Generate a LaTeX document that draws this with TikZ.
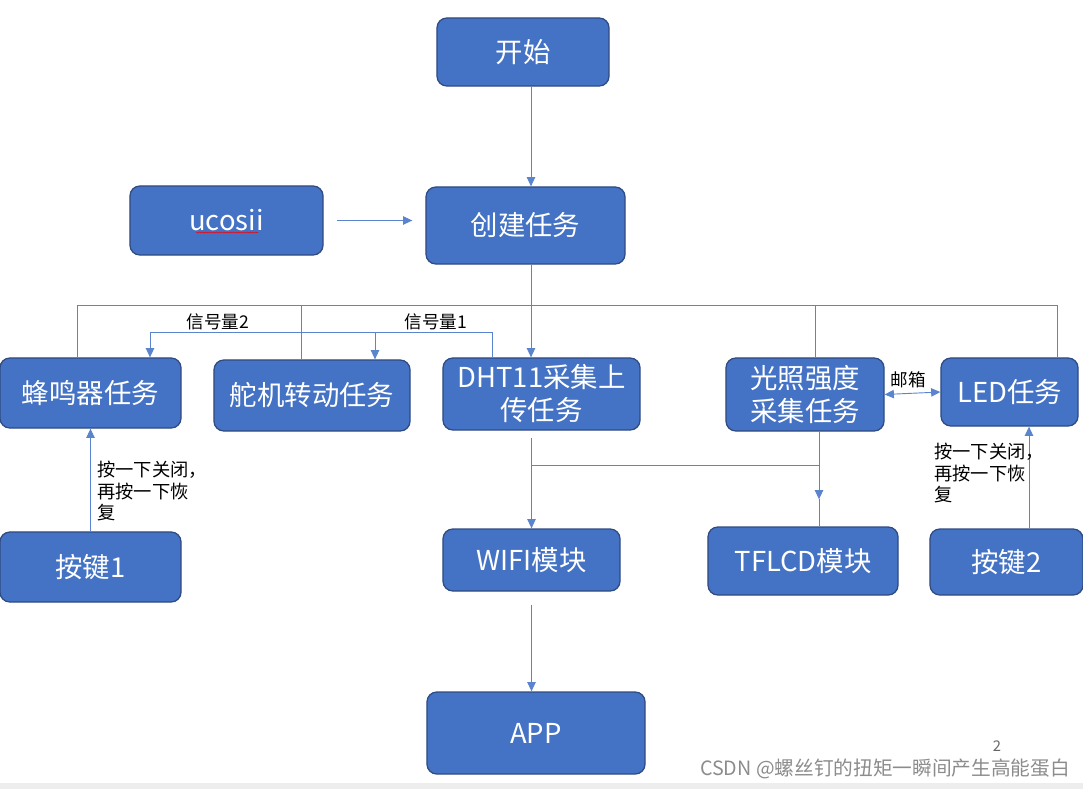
\documentclass[tikz,border=0pt]{standalone}
\usepackage{fontspec}
\setmainfont{Noto Sans CJK SC}
\usetikzlibrary{arrows.meta,decorations.pathmorphing}
\definecolor{boxblue}{HTML}{4472C4}
\definecolor{boxedge}{HTML}{2F4B82}
\definecolor{linkblue}{HTML}{5B84CF}
\begin{document}
\begin{tikzpicture}[x=0.025cm,y=-0.025cm]
	\tikzstyle{task}=[rectangle,rounded corners=7pt,fill=boxblue,draw=boxedge,line width=0.9pt,text=white,inner sep=0pt,align=center,font=\fontsize{19.5}{23.5}\selectfont]
	%\tikzstyle{task}=[rectangle,rounded corners=4pt,fill=boxblue,draw=boxedge,text=white]
	\tikzstyle{line}=[draw=linkblue,line width=0.65pt]
	\tikzstyle{flow}=[line,-{Triangle[length=2.3mm,width=2.1mm]}]
	\tikzstyle{note}=[font=\fontsize{12.5}{15.5}\selectfont,inner sep=0pt]
	\tikzstyle{keynote}=[font=\fontsize{13}{15.3}\selectfont,inner sep=0pt,anchor=north west,align=left]
	\useasboundingbox (0,0) rectangle (1083,789);
	\fill[black!7] (0,783) rectangle (1083,789);
	\node[task,minimum width=4.3cm,minimum height=1.7cm] (start) at (523,52) {开始};
	\node[task,minimum width=4.825cm,minimum height=1.725cm] (ucosii) at (226.5,220.5) {ucosii};
	\node[task,minimum width=4.975cm,minimum height=1.925cm] (create) at (525.5,225.5) {创建任务};
	\node[task,minimum width=4.525cm,minimum height=1.75cm] (buzzer) at (90.5,393) {蜂鸣器任务};
	\node[task,minimum width=4.9cm,minimum height=1.775cm] (servo) at (312,395.5) {舵机转动任务};
	\node[task,minimum width=4.925cm,minimum height=1.8cm] (dht) at (541.5,394) {DHT11采集上\\传任务};
	\node[task,minimum width=3.95cm,minimum height=1.825cm] (light) at (805,394.5) {光照强度\\采集任务};
	\node[task,minimum width=3.425cm,minimum height=1.7cm] (led) at (1009.5,392) {LED任务};
	\node[task,minimum width=4.525cm,minimum height=1.75cm] (key1) at (90.5,567) {按键1};
	\node[task,minimum width=4.425cm,minimum height=1.55cm] (wifi) at (531.5,560) {WIFI模块};
	\node[task,minimum width=4.75cm,minimum height=1.7cm] (tflcd) at (803,561) {TFLCD模块};
	\node[task,minimum width=3.825cm,minimum height=1.65cm] (key2) at (1006.5,562) {按键2};
	\node[task,minimum width=5.45cm,minimum height=2.05cm] (app) at (536,733) {APP};
	% spell-check mark under ucosii
	\draw[red,line width=0.4pt,decorate,decoration={snake,amplitude=0.35pt,segment length=2pt}] (196,232.5) -- (258,232.5);
	% task bus
	\coordinate (trunk) at (531,305);
	\coordinate (bus-l) at (77,305);
	\coordinate (bus-r) at (1057,305);
	\coordinate (bus-servo) at (301,305);
	\coordinate (bus-light) at (815,305);
	\draw[flow] (start.south -| trunk) -- (create.north -| trunk);
	\draw[flow] ([xshift=0.325cm]ucosii.east) -- ([xshift=-0.325cm]create.west |- ucosii.east);
	\draw[line] (buzzer.north -| bus-l) -- (bus-l) -- (bus-r) -- (led.north -| bus-r);
	\draw[line] (servo.north -| bus-servo) -- (bus-servo);
	\draw[line] (light.north -| bus-light) -- (bus-light);
	\draw[flow] (create.south -| trunk) -- (dht.north -| trunk);
	% semaphores
	\coordinate (sem-r) at (492,332);
	\coordinate (sem-l) at (150,332);
	\coordinate (sem-m) at (375,332);
	\draw[line] (dht.north -| sem-r) -- (sem-r) -- (sem-l);
	\draw[flow] (sem-l) -- (buzzer.north -| sem-l);
	\draw[flow] (sem-m) -- (servo.north -| sem-m);
	\node[note] (sem2) at (218,322) {信号量2};
	\node[note] (sem1) at (436,322) {信号量1};
	% mailbox
	\draw[line,{Triangle[length=2.3mm,width=2.1mm]}-{Triangle[length=2.3mm,width=2.1mm]}] (light.east) -- (led.west);
	\node[note] (mbox) at (908,380) {邮箱};
	% keys
	\draw[flow] (key1.north) -- (buzzer.south);
	\node[keynote] (key1-note) at (97,461) {按一下关闭，\\再按一下恢\\复};
	\draw[flow] ([xshift=0.5625cm]key2.north) -- ([xshift=0.5625cm]key2.north |- led.south);
	\node[keynote] (key2-note) at (934,443) {按一下关闭，\\再按一下恢\\复};
	% outputs
	\coordinate (tf-join) at (531,465);
	\coordinate (lcd-bus) at (819,465);
	\draw[flow] ([yshift=-0.175cm]dht.south -| wifi.north) -- (wifi.north);
	\draw[line] (tf-join) -- (lcd-bus);
	\draw[flow] (light.south -| lcd-bus) -- ([yshift=0.675cm]tflcd.north -| lcd-bus);
	\draw[line] ([yshift=0.675cm]tflcd.north -| lcd-bus) -- (tflcd.north -| lcd-bus);
	\draw[flow] ([yshift=-0.325cm]wifi.south) -- (app.north -| wifi.south);
	% watermark
	\node[font=\fontsize{10.5}{12}\selectfont,text=black!60,inner sep=0pt] (page) at (997,746) {2};
	\node[font=\fontsize{14}{16}\selectfont,text=black!45,inner sep=0pt] (mark) at (885,769) {CSDN @螺丝钉的扭矩一瞬间产生高能蛋白};
\end{tikzpicture}
\end{document}
